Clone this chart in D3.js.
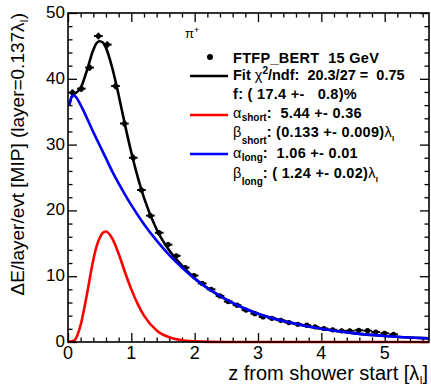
<!DOCTYPE html>
<html>
<head>
<meta charset="utf-8">
<script src="https://cdn.jsdelivr.net/npm/d3@7"></script>
<style>
  html, body { margin: 0; padding: 0; background: #fff; }
  svg text { font-family: "Liberation Sans", Arial, Helvetica, sans-serif; white-space: pre; }
</style>
</head>
<body>
<div id="chart"></div>
<script>
// Layer centres (z from shower start, in lambda_I) and measured energy per layer
const layerZ = [0.07, 0.21, 0.34, 0.48, 0.62, 0.75, 0.89, 1.03, 1.16, 1.30,
  1.44, 1.58, 1.71, 1.85, 1.99, 2.12, 2.26, 2.40, 2.53, 2.67,
  2.81, 2.95, 3.08, 3.22, 3.36, 3.49, 3.63, 3.77, 3.90, 4.04,
  4.18, 4.32, 4.45, 4.59, 4.73, 4.86, 5.00, 5.14];
const layerE = [37.9, 38.5, 41.7, 46.5, 45.2, 38.9, 33.2, 28.0, 23.1, 19.2,
  16.6, 14.8, 13.1, 11.3, 10.1, 8.9, 8.0, 7.0, 6.15, 5.6,
  4.85, 4.3, 3.8, 3.6, 3.3, 2.95, 2.7, 2.55, 2.3, 2.05,
  1.85, 1.7, 1.7, 1.78, 1.72, 1.52, 1.33, 1.17];
const layerErr = [0.5, 0.5, 0.5, 0.5, 0.5, 0.5, 0.5, 0.5, 0.4, 0.4,
  0.4, 0.4, 0.3, 0.3, 0.3, 0.3, 0.3, 0.3, 0.3, 0.3,
  0.3, 0.3, 0.3, 0.3, 0.3, 0.3, 0.3, 0.3, 0.3, 0.3,
  0.3, 0.3, 0.3, 0.3, 0.3, 0.3, 0.3, 0.3];
const halfLayer = 0.0685;

// Fit curves
const fitZ = [0.02, 0.07, 0.1, 0.2, 0.3, 0.4, 0.45, 0.5, 0.55, 0.6, 0.7, 0.8, 0.9, 1.0, 1.1, 1.2, 1.4, 1.6, 1.8, 2.0, 2.5, 3.0, 3.5, 4.0, 4.5, 5.0, 5.7];
const fitE = [36.0, 37.5, 37.7, 38.6, 41.3, 44.4, 45.4, 45.7, 45.5, 44.7, 41.6, 37.5, 33.0, 28.8, 25.1, 21.9, 17.1, 13.9, 11.6, 9.7, 6.45, 4.3, 2.95, 2.0, 1.35, 0.92, 0.55];

const shortZ = [0, 0.1, 0.2, 0.3, 0.4, 0.45, 0.5, 0.55, 0.6, 0.7, 0.8, 0.9, 1.0, 1.1, 1.2, 1.4, 1.6, 1.8, 2.0, 2.5, 5.7];
const shortE = [0, 0.25, 2.6, 7.3, 12.5, 14.5, 15.8, 16.6, 16.8, 15.7, 13.4, 10.6, 8.0, 5.8, 4.0, 1.76, 0.71, 0.27, 0.09, 0.01, 0];

const longZ = [0.02, 0.07, 0.1, 0.2, 0.3, 0.4, 0.5, 0.6, 0.7, 0.8, 0.9, 1.0, 1.2, 1.4, 1.6, 1.8, 2.0, 2.5, 3.0, 3.5, 4.0, 4.5, 5.0, 5.7];
const longE = [36.0, 37.4, 37.4, 36.0, 34.0, 31.9, 29.9, 27.9, 25.9, 24.1, 22.4, 20.8, 17.9, 15.4, 13.2, 11.3, 9.6, 6.45, 4.3, 2.95, 2.0, 1.35, 0.92, 0.55];

const xMajor = [0, 1, 2, 3, 4, 5];
const yMajor = [0, 10, 20, 30, 40, 50];

const width = 431, height = 385;
const margin = { left: 68, right: 2, top: 13, bottom: 43 };

const svg = d3.select('#chart').append('svg')
  .attr('width', width)
  .attr('height', height);

const x = d3.scaleLinear().domain([0, 5.7]).range([margin.left, width - margin.right]);
const y = d3.scaleLinear().domain([0, 50]).range([height - margin.bottom, margin.top]);

const xMinor = d3.range(0, 5.7, 0.2).filter(v => Math.abs(v - Math.round(v)) > 1e-6);
const yMinor = d3.range(0, 50, 2).filter(v => v % 10 !== 0);

// Axes: ticks drawn inward on all four sides
function tickAxis(axisFn, scale, values, size, translate) {
  const g = svg.append('g')
    .attr('transform', translate)
    .call(axisFn(scale).tickValues(values).tickSize(size).tickSizeOuter(0).tickFormat(''));
  g.select('.domain').remove();
  g.selectAll('line').attr('stroke', '#000').attr('stroke-width', 1.3);
  return g;
}
const x0 = y(0), x1 = y(50), yl = x(0), yr = x(5.7);
tickAxis(d3.axisBottom, x, xMajor, -9, `translate(0,${x0})`);
tickAxis(d3.axisBottom, x, xMinor, -4.5, `translate(0,${x0})`);
tickAxis(d3.axisTop, x, xMajor, -9, `translate(0,${x1})`);
tickAxis(d3.axisTop, x, xMinor, -4.5, `translate(0,${x1})`);
tickAxis(d3.axisLeft, y, yMajor, -9, `translate(${yl},0)`);
tickAxis(d3.axisLeft, y, yMinor, -4.5, `translate(${yl},0)`);
tickAxis(d3.axisRight, y, yMajor, -9, `translate(${yr},0)`);
tickAxis(d3.axisRight, y, yMinor, -4.5, `translate(${yr},0)`);

// Tick labels
svg.append('g').selectAll('text')
  .data(xMajor)
  .join('text')
  .attr('x', d => x(d))
  .attr('y', x0 + 17)
  .attr('text-anchor', 'middle')
  .attr('font-size', 18)
  .text(d => d);

svg.append('g').selectAll('text')
  .data(yMajor)
  .join('text')
  .attr('x', yl - 3)
  .attr('y', d => y(d) + 5)
  .attr('text-anchor', 'end')
  .attr('font-size', 17)
  .text(d => d);

// Axis titles
const xTitle = svg.append('text')
  .attr('x', 428)
  .attr('y', 380)
  .attr('text-anchor', 'end')
  .attr('font-size', 20);
xTitle.append('tspan').text('z from shower start [λ');
xTitle.append('tspan').attr('font-size', 11).attr('dy', 4).text('I');
xTitle.append('tspan').attr('dy', -4).text(']');

const yTitle = svg.append('text')
  .attr('transform', `translate(24,${margin.top}) rotate(-90)`)
  .attr('text-anchor', 'end')
  .attr('font-size', 19);
yTitle.append('tspan').text('ΔE/layer/evt [MIP] (layer=0.137λ');
yTitle.append('tspan').attr('font-size', 11).attr('dy', 4).text('I');
yTitle.append('tspan').attr('dy', -4).text(')');

// Data points with layer-width error bars
const pts = svg.append('g');
layerZ.forEach((z, i) => {
  const cx = x(z), cy = y(layerE[i]);
  pts.append('line')
    .attr('x1', x(z - halfLayer)).attr('x2', x(z + halfLayer))
    .attr('y1', cy).attr('y2', cy)
    .attr('stroke', '#000').attr('stroke-width', 2);
  pts.append('line')
    .attr('x1', cx).attr('x2', cx)
    .attr('y1', y(layerE[i] - layerErr[i])).attr('y2', y(layerE[i] + layerErr[i]))
    .attr('stroke', '#000').attr('stroke-width', 2);
  pts.append('circle')
    .attr('cx', cx).attr('cy', cy).attr('r', 2.6)
    .attr('fill', '#000');
});

// Fit curves
const line = d3.line()
  .x(d => x(d[0]))
  .y(d => y(d[1]))
  .curve(d3.curveMonotoneX);

function drawCurve(zs, es, color) {
  svg.append('path')
    .datum(zs.map((z, i) => [z, es[i]]))
    .attr('d', line)
    .attr('fill', 'none')
    .attr('stroke', color)
    .attr('stroke-width', 2.6);
}
drawCurve(fitZ, fitE, '#000');
drawCurve(shortZ, shortE, '#ff0000');
drawCurve(longZ, longE, '#0000ff');

// Frame
svg.append('rect')
  .attr('x', yl).attr('y', x1)
  .attr('width', yr - yl).attr('height', x0 - x1)
  .attr('fill', 'none')
  .attr('stroke', '#000')
  .attr('stroke-width', 1.6);

// Legend
const lg = svg.append('g').attr('font-size', 14.5).attr('font-weight', 'bold')
  .attr('letter-spacing', 0.3);
const tx = 233;

const pi = svg.append('text').attr('x', 185).attr('y', 38).attr('font-size', 13);
pi.append('tspan').text('π');
pi.append('tspan').attr('font-size', 9).attr('dy', -5).text('+');

lg.append('circle').attr('cx', 210).attr('cy', 57).attr('r', 3).attr('fill', '#000');
lg.append('text').attr('x', tx).attr('y', 63).text('FTFP_BERT  15 GeV');

lg.append('line').attr('x1', 190).attr('x2', 228).attr('y1', 76).attr('y2', 76)
  .attr('stroke', '#000').attr('stroke-width', 2.6);
const fitT = lg.append('text').attr('x', tx).attr('y', 80).attr('letter-spacing', 0);
fitT.append('tspan').text('Fit ');
fitT.append('tspan').attr('font-weight', 'normal').text('χ');
fitT.append('tspan').attr('font-size', 10).attr('dy', -6).text('2');
fitT.append('tspan').attr('dy', 6).text('/ndf:  20.3/27 =  0.75');

lg.append('text').attr('x', tx).attr('y', 99).text('f: ( 17.4 +-   0.8)%');

function paramRows(color, lineY, name, aText, bText, yA, yB) {
  lg.append('line').attr('x1', 190).attr('x2', 228).attr('y1', lineY).attr('y2', lineY)
    .attr('stroke', color).attr('stroke-width', 2.6);
  const a = lg.append('text').attr('x', tx).attr('y', yA);
  a.append('tspan').attr('font-weight', 'normal').text('α');
  a.append('tspan').attr('font-size', 10).attr('letter-spacing', 0).attr('dy', 3).text(name);
  a.append('tspan').attr('dy', -3).text(aText);
  const b = lg.append('text').attr('x', tx).attr('y', yB);
  b.append('tspan').attr('font-weight', 'normal').text('β');
  b.append('tspan').attr('font-size', 10).attr('letter-spacing', 0).attr('dy', 7).text(name);
  b.append('tspan').attr('dy', -7).text(bText);
  b.append('tspan').attr('font-weight', 'normal').text('λ');
  b.append('tspan').attr('font-size', 8).attr('dy', 4).text('I');
}
paramRows('#ff0000', 115, 'short', ':  5.44 +- 0.36', ': (0.133 +- 0.009)', 118, 137);
paramRows('#0000ff', 154, 'long', ':  1.06 +- 0.01', ': ( 1.24 +- 0.02)', 158, 178);
</script>
</body>
</html>
